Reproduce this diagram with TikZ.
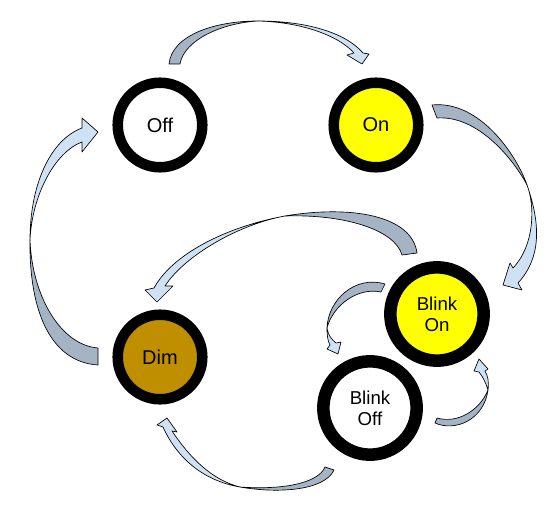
\documentclass[tikz,border=0pt]{standalone}
\usepackage{fontspec}
\setmainfont{Liberation Sans}
\definecolor{ribdark}{RGB}{165,180,196}
\definecolor{riblight}{RGB}{207,226,243}
\definecolor{dimgold}{RGB}{191,143,0}
\definecolor{lampyellow}{RGB}{255,255,0}
\begin{document}
\begin{tikzpicture}[x=0.75pt,y=-0.75pt,
 state/.style={circle,draw=black,line width=7.9pt,minimum size=63.4pt,inner sep=0pt,
   font=\fontsize{15}{16}\selectfont,align=center},
 bigstate/.style={state,line width=9.4pt,minimum size=70pt,font=\fontsize{14}{15.75}\selectfont},
 back/.style={fill=ribdark,draw=black,line width=0.5pt,line join=round},
 front/.style={fill=riblight,draw=black,line width=0.5pt,line join=round}]
\useasboundingbox (0,0) rectangle (554,513);

% Off -> On (top)
\draw[back] (169,64) .. controls (172,35) and (215,21) .. (258,21) .. controls (222,23) and (184,40) .. (180,64) -- cycle;
\draw[front] (258,21) .. controls (305,21) and (345,32) .. (363,53) -- (369,54) -- (362,64) -- (347,55) -- (354,53) .. controls (338,35) and (300,22) .. (258,21) -- cycle;

% On -> Blink On (right)
\draw[back] (432,105) .. controls (480,100) and (517,156) .. (527,185) .. controls (514,160) and (478,115) .. (437,118) -- cycle;
\draw[front] (527,185) .. controls (541,225) and (541,258) .. (518,283) -- (522,290) -- (503,285) -- (510,263) -- (513,268) .. controls (535,245) and (535,205) .. (527,185) -- cycle;

% Blink On -> Dim (middle)
\draw[back] (417,253) .. controls (412,215) and (350,205) .. (285,216) .. controls (345,214) and (395,230) .. (402,255) -- cycle;
\draw[front] (285,216) .. controls (235,225) and (175,250) .. (154,288) -- (145,290) -- (157,302) -- (173,286) -- (165,286) .. controls (185,255) and (240,224) .. (285,216) -- cycle;

% Blink On -> Blink Off
\draw[back] (385,284) .. controls (355,275) and (328,300) .. (327,328) .. controls (333,305) and (358,287) .. (381,292) -- cycle;
\draw[front] (327,328) .. controls (327,337) and (328,341) .. (330,345) -- (327,349) -- (338,354) -- (341,342) -- (336,343) .. controls (332,340) and (328,335) .. (327,328) -- cycle;

% Blink Off -> Blink On
\draw[back] (435,423) .. controls (455,432) and (484,420) .. (488,390) .. controls (480,410) and (458,424) .. (437,418) -- cycle;
\draw[front] (488,390) .. controls (489,382) and (488,376) .. (485,371) -- (488,369) -- (479,359) -- (474,371) -- (479,372) .. controls (483,377) and (486,383) .. (488,390) -- cycle;

% Blink Off -> Dim (bottom)
\draw[back] (334,470) .. controls (325,490) and (280,494) .. (240,487) .. controls (280,490) and (318,484) .. (325,467) -- cycle;
\draw[front] (240,487) .. controls (205,481) and (178,460) .. (163,427) -- (157,425) -- (167,418) -- (177,432) -- (172,431) .. controls (190,458) and (212,480) .. (240,487) -- cycle;

% Dim -> Off (left)
\draw[back] (98,365) .. controls (50,362) and (29,310) .. (30,240) .. controls (32,295) and (60,345) .. (98,348) -- cycle;
\draw[front] (30,240) .. controls (30,185) and (50,140) .. (82,128) -- (82,118) -- (98,132) -- (82,152) -- (82,142) .. controls (55,152) and (32,195) .. (30,240) -- cycle;

\node[state,fill=white] (off) at (160,125) {Off};
\node[state,fill=lampyellow] (on) at (376,125) {On};
\node[bigstate,fill=lampyellow] (blinkon) at (437,314) {Blink\\On};
\node[bigstate,fill=white] (blinkoff) at (370,408) {Blink\\Off};
\node[state,fill=dimgold] (dim) at (160,357) {Dim};
\end{tikzpicture}
\end{document}
